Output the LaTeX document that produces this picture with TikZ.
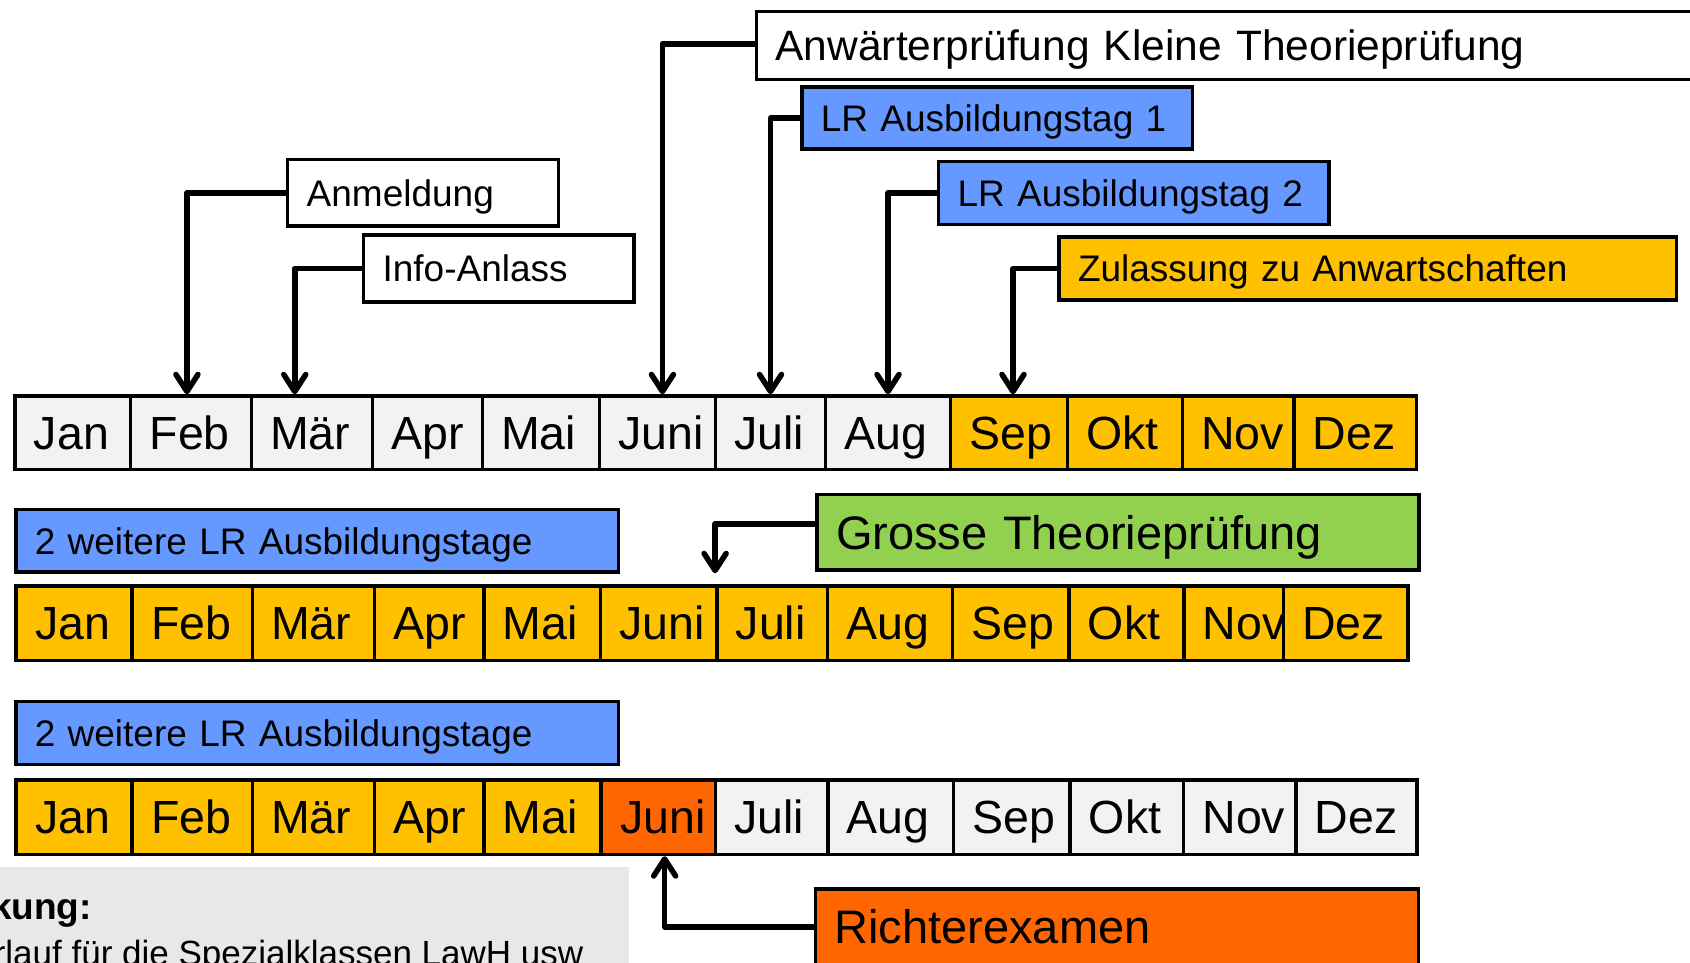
\documentclass[tikz,border=0pt]{standalone}
\usepackage{fontspec}
\setmainfont{Liberation Sans}
\usetikzlibrary{arrows.meta}
\definecolor{cellgray}{HTML}{F2F2F2}
\definecolor{gold}{HTML}{FFC000}
\definecolor{lrblue}{HTML}{6699FF}
\definecolor{grgreen}{HTML}{92D050}
\definecolor{rorange}{HTML}{FF6600}
\definecolor{notegray}{HTML}{E8E8E8}
\newcommand\fmon{\fontsize{46.5}{52}\selectfont}
\newcommand\fsm{\fontsize{37}{42}\selectfont}
\newcommand\fnote{\fontsize{35}{40}\selectfont}
\newcommand\fsmb{\fontsize{37}{42}\selectfont\bfseries}
\newcommand\fanw{\fontsize{42.5}{48}\selectfont}
\newcommand\fbig{\fontsize{47}{52}\selectfont}
\tikzset{
  mcell/.style={draw=black, line width=3.5pt, anchor=north west, inner xsep=19pt, inner ysep=0pt,
    align=left, font=\fmon, text height=33.3pt, text depth=0pt},
  tbox/.style={draw=black, line width=3.5pt, anchor=north west, inner xsep=19pt, inner ysep=0pt,
    align=left, text depth=0pt},
  smallbox/.style={tbox, font=\fsm, text height=26.5pt},
  bigbox/.style={tbox, font=\fbig, text height=33.6pt},
  conn/.style={line width=5.5pt, line join=round,
    -{Straight Barb[length=17pt,width=22pt,line cap=round,line join=round]}},
}
\hyphenpenalty=10000
\exhyphenpenalty=10000
\begin{document}
\begin{tikzpicture}[x=1pt,y=-1pt]
\useasboundingbox (0,0) rectangle (1690,963);
\clip (0,0) rectangle (1690,963);

% note box (bottom left)
\node[fill=notegray, anchor=north west, minimum width=635pt, minimum height=120pt, inner sep=0pt] (note) at (-6,867) {};
\node[anchor=base east, inner sep=0pt, font=\fsmb] (noteA) at (92,919.3) {kung:};
\node[anchor=base west, inner sep=0pt, font=\fnote] (noteB) at (-6.4,965) {rlauf für die Spezialklassen LawH usw};

\begin{scope}[shift={(-1.5,-1.5)}]
% row 1
\foreach \n/\x/\w/\col/\t in {
  jan/14.75/115.65/cellgray/Jan, feb/130.4/120.6/cellgray/Feb, mar/251/121/cellgray/Mär,
  apr/372/110/cellgray/Apr, mai/482/117.2/cellgray/Mai, jun/599.2/116/cellgray/Juni,
  jul/715.2/110.1/cellgray/Juli, aug/825.3/124.9/cellgray/Aug, sep/950.2/117.1/gold/Sep,
  okt/1067.3/114.8/gold/Okt, nov/1182.1/111.6/gold/Nov, dez/1293.7/122.55/gold/Dez}{
  \pgfmathsetmacro\tw{\w-38}
  \node[mcell, fill=\col, minimum width=\w pt, minimum height=73.5pt, text width=\tw pt] (r1\n) at (\x,395.75) {\t};
}

% row 2
\foreach \n/\x/\w/\col/\t in {
  jan/15.75/116.05/gold/Jan, feb/131.8/120.2/gold/Feb, mar/252/122.2/gold/Mär,
  apr/374.2/109.3/gold/Apr, mai/483.5/116.6/gold/Mai, jun/600.1/116.5/gold/Juni,
  jul/716.6/110.6/gold/Juli, aug/827.2/124.8/gold/Aug, sep/952/116.7/gold/Sep,
  okt/1068.7/114.8/gold/Okt, nov/1183.5/99.6/gold/Nov, dez/1283.1/124.55/gold/Dez}{
  \pgfmathsetmacro\tw{\w-38}
  \node[mcell, fill=\col, minimum width=\w pt, minimum height=74.5pt, text width=\tw pt] (r2\n) at (\x,585.75) {\t};
}

% row 3
\foreach \n/\x/\w/\col/\t in {
  jan/15.75/116.05/gold/Jan, feb/131.8/120.2/gold/Feb, mar/252/122.2/gold/Mär,
  apr/374.2/109.3/gold/Apr, mai/483.5/117.3/gold/Mai, jun/600.8/114.2/rorange/Juni,
  jul/715/112.5/cellgray/Juli, aug/827.5/125.5/cellgray/Aug, sep/953/116.7/cellgray/Sep,
  okt/1069.7/113.5/cellgray/Okt, nov/1183.2/112.4/cellgray/Nov, dez/1295.6/121.15/cellgray/Dez}{
  \pgfmathsetmacro\tw{\w-38}
  \node[mcell, fill=\col, minimum width=\w pt, minimum height=74.5pt, text width=\tw pt] (r3\n) at (\x,779.75) {\t};
}

% event boxes
\node[smallbox, fill=white, minimum width=270.8pt, minimum height=66.9pt, text width=232.8pt] (anm) at (287.45,159.05) {Anmeldung};
\node[smallbox, fill=white, minimum width=270.2pt, minimum height=66.8pt, text width=232.2pt] (info) at (363.35,234.75) {Info-Anlass};
\node[tbox, fill=white, font=\fanw, text height=30.4pt, minimum width=1000pt, minimum height=68.2pt, text width=962pt] (anw) at (756.35,11.05) {Anwärterprüfung Kleine Theorieprüfung};
\node[smallbox, fill=lrblue, minimum width=390.9pt, minimum height=62.2pt, text width=352.9pt] (lr1) at (801.55,86.75) {LR Ausbildungstag 1};
\node[smallbox, fill=lrblue, minimum width=390.3pt, minimum height=63.2pt, text width=352.3pt] (lr2) at (938.25,161.05) {LR Ausbildungstag 2};
\node[smallbox, fill=gold, minimum width=617.5pt, minimum height=63.2pt, text width=579.5pt] (zul) at (1058.75,236.75) {Zulassung zu Anwartschaften};
\node[smallbox, fill=lrblue, minimum width=602.7pt, minimum height=62.1pt, text width=564.7pt] (wa) at (15.55,509.45) {2 weitere LR Ausbildungstage};
\node[bigbox, fill=grgreen, minimum width=602pt, minimum height=75.5pt, text width=564pt] (grosse) at (816.75,494.45) {Grosse Theorieprüfung};
\node[smallbox, fill=lrblue, minimum width=602.7pt, minimum height=63.2pt, text width=564.7pt] (wb) at (15.55,701.05) {2 weitere LR Ausbildungstage};
\node[bigbox, fill=rorange, minimum width=603pt, minimum height=75.5pt, text width=565pt] (richter) at (815.25,888.75) {Richterexamen};

% connectors
\draw[conn] (anm.west) -| ([xshift=-4pt]r1feb.north);
\draw[conn] (info.west) -| ([xshift=-17pt]r1mar.north);
\draw[conn] ([yshift=1.5pt]anw.west) -| ([xshift=5pt]r1jun.north);
\draw[conn] (lr1.west) -| (r1jul.north);
\draw[conn] (lr2.west) -| (r1aug.north);
\draw[conn] (zul.west) -| ([xshift=4pt]r1sep.north);
\draw[conn] ([yshift=8.5pt]grosse.west) -| ([yshift=11pt]r2jul.north west);
\draw[conn] (richter.west) -| ([xshift=6.5pt]r3jun.south);
\end{scope}
\end{tikzpicture}
\end{document}
